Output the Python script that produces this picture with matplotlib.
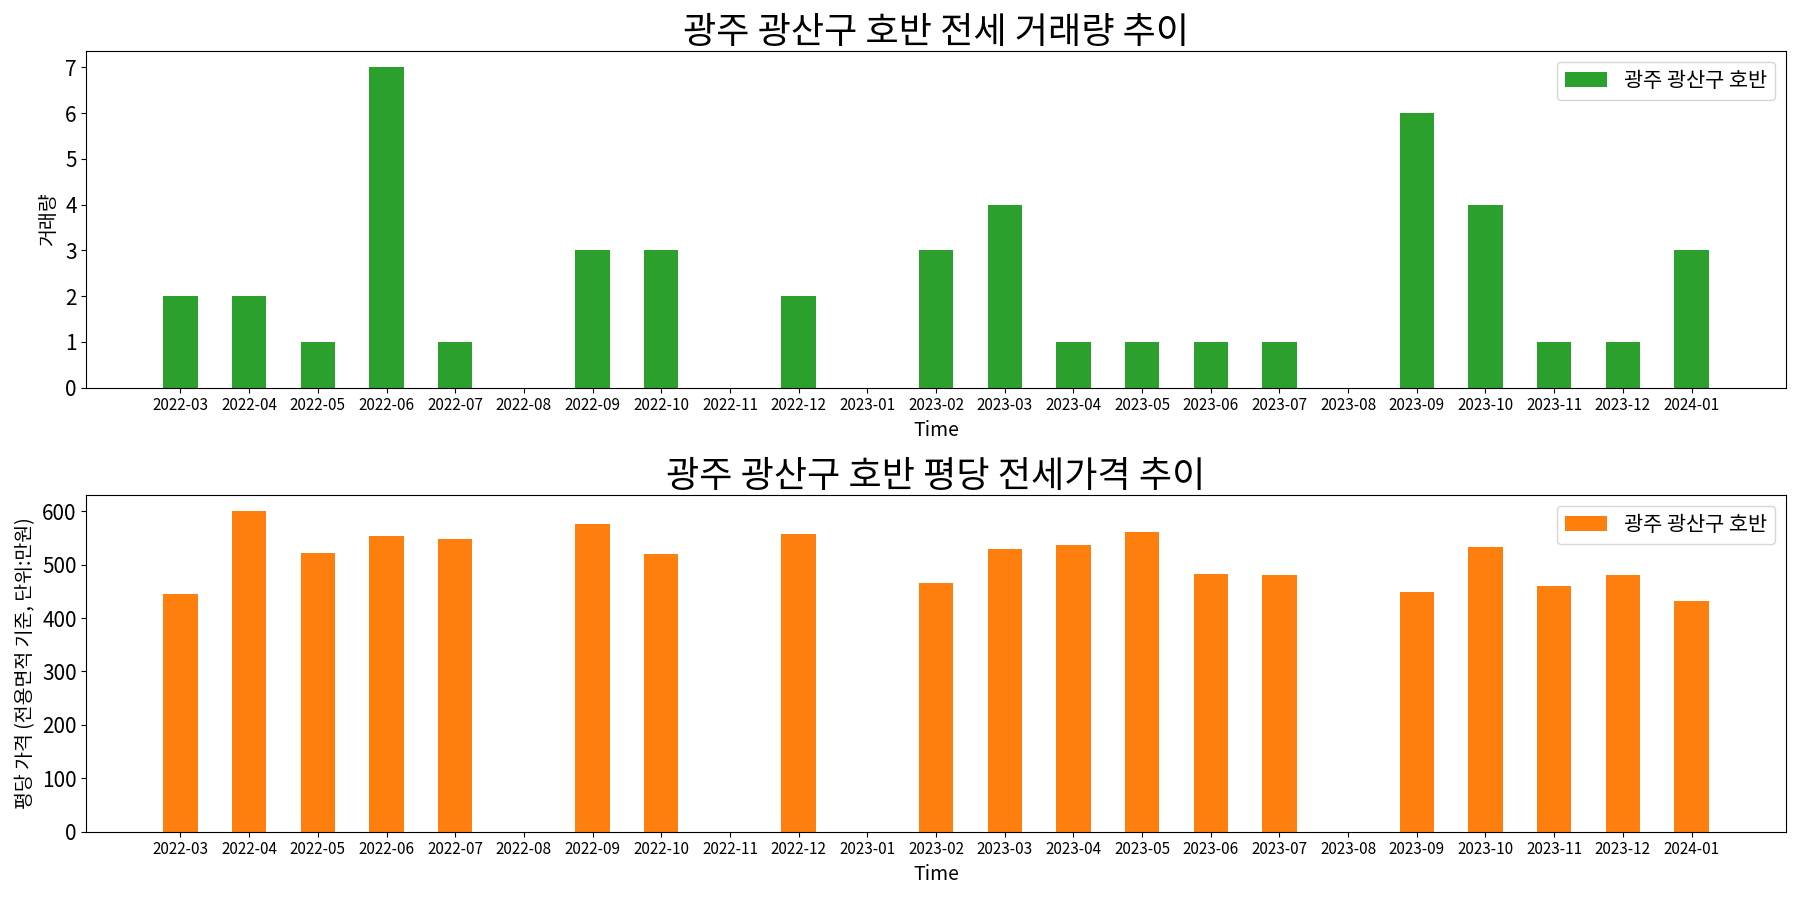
import numpy as np
import matplotlib
matplotlib.use("Agg")
import matplotlib.pyplot as plt

plt.rcParams['font.family'] = ['Noto Sans CJK KR', 'DejaVu Sans']
plt.rcParams['axes.unicode_minus'] = False

months = ['2022-03', '2022-04', '2022-05', '2022-06', '2022-07', '2022-08',
          '2022-09', '2022-10', '2022-11', '2022-12', '2023-01', '2023-02',
          '2023-03', '2023-04', '2023-05', '2023-06', '2023-07', '2023-08',
          '2023-09', '2023-10', '2023-11', '2023-12', '2024-01']
volume = [2, 2, 1, 7, 1, 0, 3, 3, 0, 2, 0, 3, 4, 1, 1, 1, 1, 0, 6, 4, 1, 1, 3]
price = [445, 600, 522, 553, 548, 0, 576, 520, 0, 557, 0, 466,
         529, 537, 561, 483, 481, 0, 449, 533, 460, 481, 432]
region = '광주 광산구 호반'

x = np.arange(len(months))

fig, (ax1, ax2) = plt.subplots(2, 1, figsize=(18, 9), dpi=100)

ax1.bar(x, volume, width=0.5, color='#2ca02c', label=region)
ax1.set_title(region + ' 전세 거래량 추이', fontsize=26)
ax1.set_ylabel('거래량', fontsize=14)
ax1.set_xlabel('Time', fontsize=14)

ax2.bar(x, price, width=0.5, color='#ff7f0e', label=region)
ax2.set_title(region + ' 평당 전세가격 추이', fontsize=26)
ax2.set_ylabel('평당 가격 (전용면적 기준, 단위:만원)', fontsize=14)
ax2.set_xlabel('Time', fontsize=14)

for ax in (ax1, ax2):
    ax.set_xticks(x)
    ax.set_xticklabels(months, fontsize=11)
    ax.tick_params(axis='y', labelsize=15)
    ax.set_xlim(-1.37, len(months) - 1 + 1.37)
    ax.legend(loc='upper right', fontsize=15)

fig.subplots_adjust(left=0.048, right=0.992, top=0.943, bottom=0.076, hspace=0.32)
fig.savefig('out.png', dpi=100)
